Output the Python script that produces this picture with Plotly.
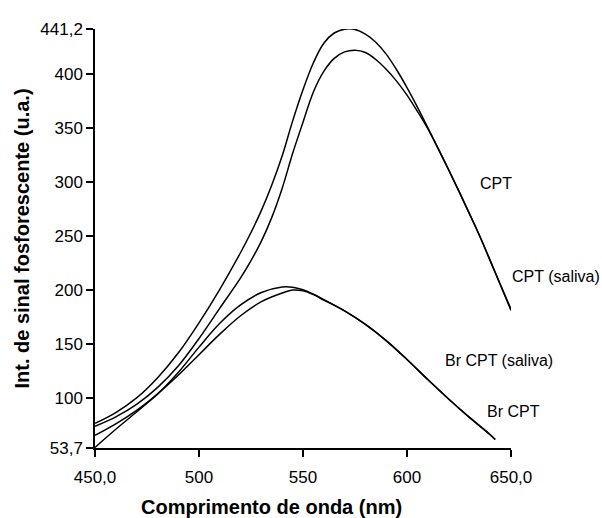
import plotly.graph_objects as go

# CPT (upper curve)
cpt_x = [450, 460, 470, 480, 490, 500, 510, 520, 525, 530, 535, 540, 545, 550, 555, 560, 565, 570, 575,
         580, 585, 590, 595, 600, 605, 610, 615, 620, 625, 630, 635, 640, 645, 650]
cpt_y = [76.5, 86.5, 100, 118.5, 141.5, 169.5, 200.5, 234.5, 253, 273.5, 297, 324, 356, 385, 410, 428, 437.5, 441, 440.8,
         436.5, 429, 418, 403.5, 387, 369, 350, 330.5, 311, 291, 270.5, 249.5, 227, 204, 181]

# CPT (saliva)
cpts_x = [450, 460, 470, 480, 490, 500, 510, 520, 525, 530, 535, 540, 545, 550, 555, 560, 565, 570, 575,
          580, 585, 590, 595, 600, 605, 610, 615, 620, 625, 630, 635, 640, 645, 650]
cpts_y = [73.8, 82.5, 94, 109.5, 129.5, 155, 183, 211, 227, 245, 267, 294, 326, 355, 383, 402, 414, 420, 421.6,
          419.5, 413, 404, 393, 380, 365, 349, 330.5, 311, 291, 270.5, 249.5, 227, 204.5, 182]

# Br CPT (saliva)
brs_x = [450, 460, 470, 480, 490, 500, 510, 520, 530, 540, 545, 550, 555, 560, 570, 580, 590, 600, 610, 620, 630, 640, 642.4]
brs_y = [65.4, 76, 88.5, 103.5, 123.5, 147, 169, 186, 197.5, 202.6, 202.4, 200, 196, 191, 180.5, 168, 153, 135.5, 117, 99, 82, 66, 61.5]

# Br CPT
br_x = [450, 460, 470, 480, 490, 500, 510, 520, 530, 540, 545, 550, 555, 560, 570, 580, 590, 600, 610, 620, 630, 640, 642.4]
br_y = [54.2, 71, 87, 103.5, 121, 140, 159, 176, 189, 197, 199.8, 199, 195.5, 190.5, 180.5, 168, 153, 135.5, 117, 99, 82, 66, 61.5]

x_ticks = [450, 500, 550, 600, 650]
x_ticktext = ["450,0", "500", "550", "600", "650,0"]
y_ticks = [53.7, 100, 150, 200, 250, 300, 350, 400, 441.2]
y_ticktext = ["53,7", "100", "150", "200", "250", "300", "350", "400", "441,2"]

labels = ["CPT", "CPT (saliva)", "Br CPT (saliva)", "Br CPT"]
label_x = [634.3, 649.6, 617.4, 637.6]
label_y = [298.6, 212.5, 134.8, 87.6]

fig = go.Figure()
for xs, ys, name in [(cpt_x, cpt_y, "CPT"), (cpts_x, cpts_y, "CPT (saliva)"),
                     (brs_x, brs_y, "Br CPT (saliva)"), (br_x, br_y, "Br CPT")]:
    fig.add_trace(go.Scatter(x=xs, y=ys, mode="lines", name=name,
                             line=dict(color="black", width=1.5, shape="spline", smoothing=1.0),
                             cliponaxis=False, showlegend=False))

for t, ax, ay in zip(labels, label_x, label_y):
    fig.add_annotation(x=ax, y=ay, xref="x", yref="y", text=t, showarrow=False,
                       xanchor="left", yanchor="middle",
                       font=dict(family="Liberation Sans, Arial", size=16, color="black"))

font_main = dict(family="Liberation Sans, Arial", size=17, color="black")
title_font = dict(family="Liberation Sans, Arial", size=20, color="black")

# x-axis title placed as annotation (offset left of plot centre, as in the reference)
fig.add_annotation(x=0.425, y=-0.141, xref="paper", yref="paper",
                   text="<b>Comprimento de onda (nm)</b>", showarrow=False,
                   xanchor="center", yanchor="middle", font=title_font)

fig.update_layout(
    width=602, height=518,
    margin=dict(l=95, r=91, t=29, b=70),
    plot_bgcolor="white", paper_bgcolor="white",
    font=font_main,
    xaxis=dict(range=[450, 650], tickvals=x_ticks, ticktext=x_ticktext,
               showline=True, linecolor="black", linewidth=1.5,
               ticks="outside", ticklen=7, tickwidth=1.5, tickcolor="black",
               showgrid=False, zeroline=False, tickfont=font_main,
               ticklabelstandoff=6, automargin=False),
    yaxis=dict(range=[53.7, 441.2], tickvals=y_ticks, ticktext=y_ticktext,
               showline=True, linecolor="black", linewidth=1.5,
               ticks="outside", ticklen=7, tickwidth=1.5, tickcolor="black",
               showgrid=False, zeroline=False, tickfont=font_main,
               automargin=False,
               title=dict(text="<b>Int. de sinal fosforescente (u.a.)</b>", font=title_font, standoff=5)),
)

fig.write_html("out.html")
